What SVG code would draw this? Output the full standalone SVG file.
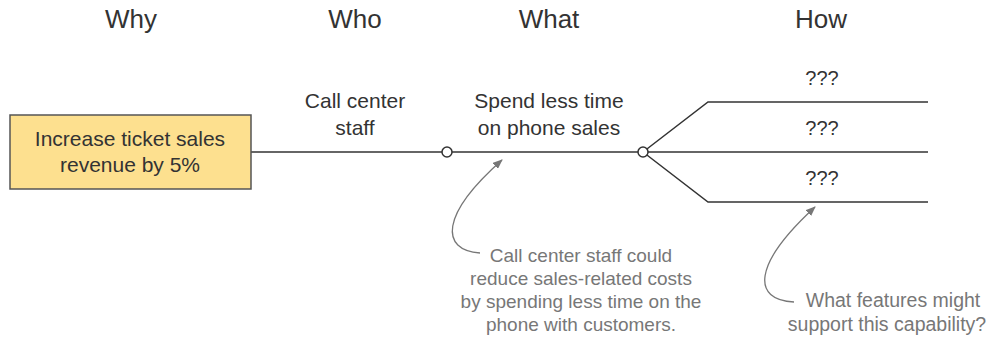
<svg xmlns="http://www.w3.org/2000/svg" width="989" height="340" viewBox="0 0 989 340">
<style>
text{font-family:"Liberation Sans",Arial,sans-serif;text-anchor:middle}
.h{font-size:26px;fill:#333}
.l{font-size:21px;fill:#333}
.q{font-size:20px;fill:#333}
.a{font-size:19.5px;fill:#777}
.a1{font-size:19px;fill:#777}
.ln{stroke:#333;stroke-width:1.5;fill:none}
.cv{stroke:#777;stroke-width:1.3;fill:none}
.dot{fill:#fff;stroke:#333;stroke-width:1.5}
</style>
<defs>
<marker id="ah" markerWidth="10" markerHeight="8" refX="9" refY="4" orient="auto" markerUnits="userSpaceOnUse">
<path d="M0,0 L10,4 L0,8 z" fill="#777"/>
</marker>
</defs>
<g id="headers">
<text class="h" x="131" y="28">Why</text>
<text class="h" x="355" y="28">Who</text>
<text class="h" x="549" y="28">What</text>
<text class="h" x="821" y="28">How</text>
</g>
<g id="connectors">
<path class="ln" d="M251,152 H928"/>
<path class="ln" d="M643,152 L708,102 H928"/>
<path class="ln" d="M643,152 L708,202 H928"/>
<path class="cv" d="M480,253 C440,250 440,215 502,160" marker-end="url(#ah)"/>
<path class="cv" d="M794,302 C752,300 752,265 815,207" marker-end="url(#ah)"/>
</g>
<g id="why">
<rect x="10" y="115" width="241" height="74" fill="#fde08f" stroke="#555" stroke-width="1.5"/>
<text class="l" x="130" y="146">Increase ticket sales</text>
<text class="l" x="130" y="172">revenue by 5%</text>
</g>
<g id="who">
<text class="l" x="355" y="108">Call center</text>
<text class="l" x="355" y="135">staff</text>
<circle class="dot" cx="447" cy="152" r="5"/>
</g>
<g id="what">
<text class="l" x="549" y="108">Spend less time</text>
<text class="l" x="549" y="135">on phone sales</text>
<circle class="dot" cx="643" cy="152" r="5"/>
</g>
<g id="how">
<text class="q" x="822" y="85">???</text>
<text class="q" x="822" y="135">???</text>
<text class="q" x="822" y="185">???</text>
</g>
<g id="note1">
<text class="a1" x="581" y="262">Call center staff could</text>
<text class="a1" x="581" y="285">reduce sales-related costs</text>
<text class="a1" x="581" y="308">by spending less time on the</text>
<text class="a1" x="581" y="331">phone with customers.</text>
</g>
<g id="note2">
<text class="a" x="893" y="307">What features might</text>
<text class="a" x="887" y="331">support this capability?</text>
</g>
</svg>
